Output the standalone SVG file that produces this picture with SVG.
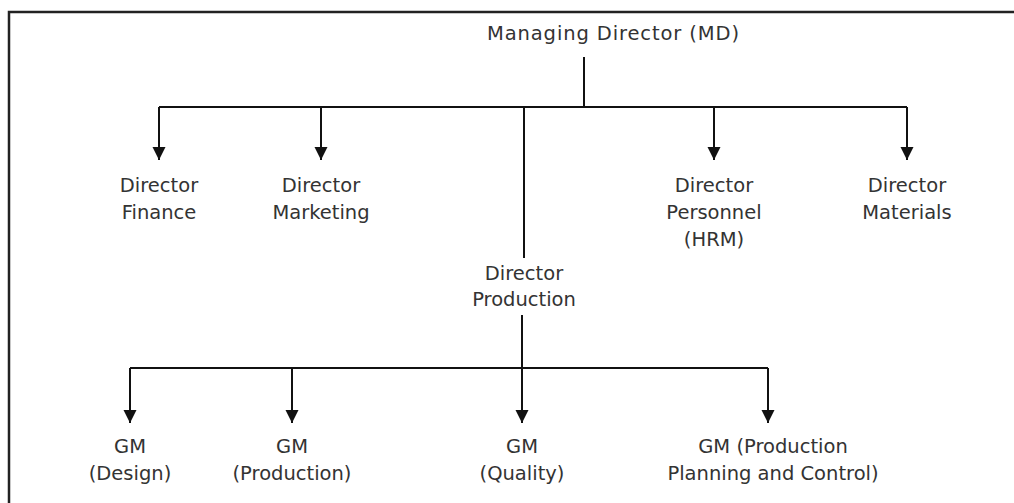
<svg xmlns="http://www.w3.org/2000/svg" width="1014" height="503" viewBox="0 0 1014 503">
<defs>
<marker id="ah" markerUnits="userSpaceOnUse" markerWidth="16" markerHeight="14" refX="13" refY="6.5" orient="auto">
<path d="M0,0 L13,6.5 L0,13 Z" fill="#111"/>
</marker>
<style>
text{font-family:"DejaVu Sans","Liberation Sans",sans-serif;font-size:19.5px;fill:#333;text-anchor:middle}
.ln{stroke:#111;stroke-width:2;fill:none}
.ar{stroke:#111;stroke-width:2;fill:none;marker-end:url(#ah)}
</style>
</defs>
<rect width="1014" height="503" fill="#fff"/>
<path d="M9,503 V12 H1014" stroke="#222" stroke-width="2.5" fill="none"/>
<g id="connectors">
<path class="ln" d="M584,57 V107"/>
<path class="ln" d="M159,107 H907"/>
<path class="ar" d="M159,107 V160"/>
<path class="ar" d="M321,107 V160"/>
<path class="ar" d="M714,107 V160"/>
<path class="ar" d="M907,107 V160"/>
<path class="ln" d="M524,107 V258"/>
<path class="ln" d="M130,368 H768"/>
<path class="ar" d="M522,315 V423"/>
<path class="ar" d="M130,368 V423"/>
<path class="ar" d="M292,368 V423"/>
<path class="ar" d="M768,368 V423"/>
</g>
<g id="md"><text x="613" y="40" textLength="252" lengthAdjust="spacing">Managing Director (MD)</text></g>
<g id="finance"><text x="159" y="192">Director</text><text x="159" y="219">Finance</text></g>
<g id="marketing"><text x="321" y="192">Director</text><text x="321" y="219">Marketing</text></g>
<g id="personnel"><text x="714" y="192">Director</text><text x="714" y="219">Personnel</text><text x="714" y="246">(HRM)</text></g>
<g id="materials"><text x="907" y="192">Director</text><text x="907" y="219">Materials</text></g>
<g id="production"><text x="524" y="280">Director</text><text x="524" y="306">Production</text></g>
<g id="gm-design"><text x="130" y="453">GM</text><text x="130" y="480">(Design)</text></g>
<g id="gm-production"><text x="292" y="453">GM</text><text x="292" y="480">(Production)</text></g>
<g id="gm-quality"><text x="522" y="453">GM</text><text x="522" y="480">(Quality)</text></g>
<g id="gm-ppc"><text x="773" y="453">GM (Production</text><text x="773" y="480">Planning and Control)</text></g>
</svg>
